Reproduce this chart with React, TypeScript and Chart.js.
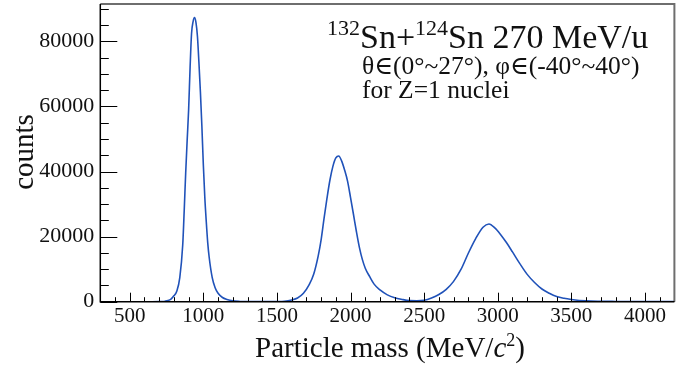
import React, { useEffect, useRef } from 'react';
import { Chart, registerables } from 'chart.js';

Chart.register(...registerables);

// Particle mass (MeV/c^2) bin centres
const masses = [
  300, 400, 500, 600, 650, 700, 720, 740, 760, 780, 800, 820, 840, 860, 870, 880, 890, 900,
  910, 920, 930, 940, 950, 960, 970, 980, 990, 1000, 1010, 1020, 1030, 1040, 1060, 1080,
  1100, 1130, 1160, 1200, 1250, 1300, 1400, 1500, 1550, 1600, 1640, 1680, 1720, 1750, 1780,
  1800, 1820, 1840, 1860, 1880, 1900, 1920, 1940, 1960, 1980, 2000, 2020, 2040, 2060, 2080,
  2100, 2130, 2160, 2200, 2250, 2300, 2350, 2400, 2450, 2500, 2550, 2600, 2650, 2700, 2750,
  2800, 2850, 2900, 2940, 2980, 3020, 3060, 3100, 3150, 3200, 3250, 3300, 3350, 3400, 3450,
  3500, 3600, 3700, 3800, 3900, 4000, 4100, 4200,
];

// counts
const counts = [
  0, 0, 0, 0, 0, 10, 50, 150, 350, 800, 1800, 3300, 7400, 17500, 28000, 39500, 49500, 59000,
  72000, 82500, 86000, 87300, 85800, 81500, 73500, 64500, 54000, 42000, 32000, 24500, 18000, 13500, 7500, 4300,
  2600, 1300, 700, 250, 80, 30, 10, 60, 150, 550, 1150, 2600, 5300, 8500, 14000,
  19000, 25600, 31800, 37400, 41600, 44200, 44800, 43200, 40400, 37000, 32000, 26800, 21500, 16700, 13000,
  10300, 7700, 5400, 3600, 2100, 1200, 700, 350, 300, 450, 1150, 2200, 3800, 6250, 9900,
  14900, 19400, 22900, 23900, 22700, 20600, 18100, 15300, 11700, 8400, 5900, 3900, 2600, 1600, 1050,
  700, 250, 120, 80, 60, 40, 30, 20,
];

const xTickValues = [500, 1000, 1500, 2000, 2500, 3000, 3500, 4000];
const yTickValues = [0, 20000, 40000, 60000, 80000];
const xMin = 300;
const xMax = 4200;
const yMin = 0;
const yMax = 91500;
const xMinorStep = 100;
const yMinorStep = 5000;

const SERIF = '"Liberation Serif", "DejaVu Serif", serif';

type Run = { text: string; size: number; dy?: number; italic?: boolean };

function runsWidth(ctx: CanvasRenderingContext2D, runs: Run[]) {
  let w = 0;
  for (const r of runs) {
    ctx.font = `${r.italic ? 'italic ' : ''}${r.size}px ${SERIF}`;
    w += ctx.measureText(r.text).width;
  }
  return w;
}

function drawRuns(ctx: CanvasRenderingContext2D, runs: Run[], x: number, y: number) {
  let cx = x;
  for (const r of runs) {
    ctx.font = `${r.italic ? 'italic ' : ''}${r.size}px ${SERIF}`;
    ctx.fillText(r.text, cx, y + (r.dy || 0));
    cx += ctx.measureText(r.text).width;
  }
}

const rootPlugin = {
  id: 'rootFrame',
  afterDraw(chart: any) {
    const { ctx, chartArea: a, scales } = chart;
    const xs = scales.x;
    const ys = scales.y;
    ctx.save();
    // inward ticks
    ctx.strokeStyle = '#000';
    ctx.lineWidth = 1;
    for (let v = xMin; v <= xMax; v += xMinorStep) {
      const px = Math.round(xs.getPixelForValue(v)) + 0.5;
      const len = v % 500 === 0 ? 9 : 4.5;
      ctx.beginPath();
      ctx.moveTo(px, a.bottom);
      ctx.lineTo(px, a.bottom - len);
      ctx.stroke();
    }
    for (let v = yMin; v <= yMax; v += yMinorStep) {
      const py = Math.round(ys.getPixelForValue(v)) + 0.5;
      const len = v % 20000 === 0 ? 17 : 8.5;
      ctx.beginPath();
      ctx.moveTo(a.left, py);
      ctx.lineTo(a.left + len, py);
      ctx.stroke();
    }
    // frame
    ctx.strokeStyle = '#6e6e6e';
    ctx.lineWidth = 2;
    ctx.beginPath();
    ctx.moveTo(a.left, a.top);
    ctx.lineTo(a.right, a.top);
    ctx.lineTo(a.right, a.bottom);
    ctx.stroke();
    ctx.strokeStyle = '#000';
    ctx.lineWidth = 1.5;
    ctx.beginPath();
    ctx.moveTo(a.left, a.top);
    ctx.lineTo(a.left, a.bottom);
    ctx.lineTo(a.right, a.bottom);
    ctx.stroke();

    // texts
    ctx.fillStyle = '#111';
    ctx.textBaseline = 'alphabetic';
    ctx.textAlign = 'left';
    drawRuns(ctx, [
      { text: '132', size: 22, dy: -13 },
      { text: 'Sn+', size: 34 },
      { text: '124', size: 22, dy: -13 },
      { text: 'Sn 270 MeV/u', size: 34 },
    ], 327, 48);
    drawRuns(ctx, [{ text: 'θ∈(0°~27°), φ∈(-40°~40°)', size: 25.5 }], 362, 74);
    drawRuns(ctx, [{ text: 'for Z=1 nuclei', size: 25.5 }], 362, 98);

    const xt: Run[] = [
      { text: 'Particle mass (MeV/', size: 29 },
      { text: 'c', size: 29, italic: true },
      { text: '2', size: 18, dy: -11 },
      { text: ')', size: 29 },
    ];
    const w = runsWidth(ctx, xt);
    drawRuns(ctx, xt, 390 - w / 2, 357);

    ctx.save();
    ctx.translate(33, 152);
    ctx.rotate(-Math.PI / 2);
    ctx.textAlign = 'center';
    ctx.font = `29px ${SERIF}`;
    ctx.fillText('counts', 0, 0);
    ctx.restore();

    ctx.restore();
  },
};

export default function App() {
  const ref = useRef<HTMLCanvasElement>(null);
  useEffect(() => {
    const chart = new Chart(ref.current as HTMLCanvasElement, {
      type: 'line',
      data: {
        datasets: [
          {
            data: masses.map((m, i) => ({ x: m, y: counts[i] })),
            borderColor: 'rgb(32, 82, 185)',
            borderWidth: 1.6,
            pointRadius: 0,
            fill: false,
            cubicInterpolationMode: 'monotone',
          },
        ],
      },
      options: {
        responsive: false,
        animation: false,
        layout: { padding: { top: 4, right: 14.6, left: 0, bottom: 0 } },
        plugins: { legend: { display: false }, tooltip: { enabled: false } },
        scales: {
          x: {
            type: 'linear',
            min: xMin,
            max: xMax,
            grid: { display: false, drawTicks: false },
            border: { display: false },
            afterBuildTicks: (s: any) => {
              s.ticks = xTickValues.map((v) => ({ value: v }));
            },
            afterFit: (s: any) => {
              s.height = 63.3;
              s.paddingLeft = 0;
              s.paddingRight = 0;
              s.paddingTop = 0;
              s.paddingBottom = 0;
            },
            ticks: {
              font: { family: SERIF, size: 21 },
              color: '#111',
              padding: 2,
              maxRotation: 0,
              autoSkip: false,
              callback: (v: any) => String(v),
            },
          },
          y: {
            type: 'linear',
            min: yMin,
            max: yMax,
            grid: { display: false, drawTicks: false },
            border: { display: false },
            afterBuildTicks: (s: any) => {
              s.ticks = yTickValues.map((v) => ({ value: v }));
            },
            afterFit: (s: any) => {
              s.width = 100.3;
              s.paddingLeft = 0;
              s.paddingRight = 0;
              s.paddingTop = 0;
              s.paddingBottom = 0;
            },
            ticks: {
              font: { family: SERIF, size: 22 },
              color: '#111',
              padding: 6,
              autoSkip: false,
              callback: (v: any) => String(v),
            },
          },
        },
      },
      plugins: [rootPlugin],
    } as any);
    return () => chart.destroy();
  }, []);
  return (
    <div style={{ position: 'absolute', left: 0, top: 0, width: 689, height: 365, background: '#fff' }}>
      <canvas ref={ref} width={689} height={365} style={{ width: 689, height: 365, display: 'block' }} />
    </div>
  );
}
